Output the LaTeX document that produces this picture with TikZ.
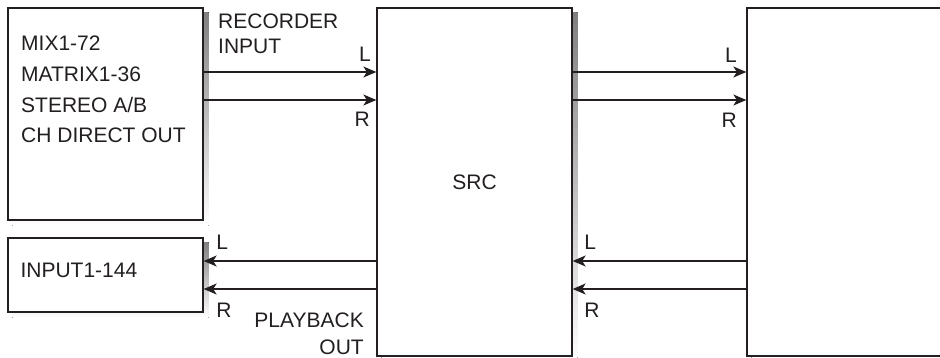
\documentclass[tikz,border=0pt]{standalone}
\usepackage{fontspec}
\setmainfont{Liberation Sans}
\usetikzlibrary{positioning, arrows.meta, backgrounds}
\definecolor{ink}{HTML}{231F20}
\definecolor{shade}{HTML}{BCBEC0}

\begin{document}
\begin{tikzpicture}[x=1pt,y=-1pt,node distance=10pt,
    every node/.style={font=\fontsize{21}{25}\selectfont, text=ink}]
  \tikzstyle{box}=[draw=ink, fill=white, line width=1.3pt, inner sep=0pt,
    minimum width=195pt]
  \tikzstyle{sig}=[-{Stealth[length=13pt,width=11pt,inset=3.5pt]}, color=ink,
    line width=1.3pt]
  \tikzstyle{lbl}=[inner sep=0pt]
  \useasboundingbox (0,0) rectangle (940,358);
  \clip (0,0) rectangle (940,358);
  % boxes
  \node[box, minimum height=212pt] (mix) at (105.5,114) {};
  \node[box, minimum height=74pt] (inp) at (105.5,275) {};
  \node[box, minimum height=348pt] (src) at (474.5,182) {SRC};
  \node[box, minimum width=230pt, minimum height=348pt] (rec) at (862,182) {};
  % shadows
  \begin{scope}[on background layer]
    \foreach \b in {mix, inp, src, rec}
      \fill[shade] ([shift={(5,5)}]\b.north west)
        rectangle ([shift={(5,5)}]\b.south east);
  \end{scope}
  % texts
  \node[lbl, anchor=north west, align=left, font=\fontsize{21}{30.6}\selectfont]
    (mixtxt) at (21,36) {MIX1-72\\MATRIX1-36\\STEREO A/B\\CH DIRECT OUT};
  \node[lbl, anchor=west] (inptxt) at ([xshift=13pt,yshift=5pt]inp.west) {INPUT1-144};
  \node[lbl, anchor=north west, align=left] (recin) at (218,14) {RECORDER\\INPUT};
  \node[lbl, anchor=north east, align=right, font=\fontsize{21}{27}\selectfont]
    (playout) at (364,313) {PLAYBACK\\OUT};
  % rows
  \coordinate (rowL) at (0,72);
  \coordinate (rowR) at (0,100);
  \coordinate (retL) at (0,261);
  \coordinate (retR) at (0,289);
  \path[sig]
    (mix.east |- rowL) edge node[lbl, pos=1, anchor=south east,
      xshift=-5pt, yshift=10pt]{L} (src.west |- rowL)
    (mix.east |- rowR) edge node[lbl, pos=1, anchor=north east,
      xshift=-6pt, yshift=-11pt]{R} (src.west |- rowR)
    (src.east |- rowL) edge node[lbl, pos=1, anchor=south east,
      xshift=-9pt, yshift=9pt]{L} (rec.west |- rowL)
    (src.east |- rowR) edge node[lbl, pos=1, anchor=north east,
      xshift=-9pt, yshift=-12pt]{R} (rec.west |- rowR)
    (src.west |- retL) edge node[lbl, pos=1, anchor=south west,
      xshift=12pt, yshift=11pt]{L} (inp.east |- retL)
    (src.west |- retR) edge node[lbl, pos=1, anchor=north west,
      xshift=12pt, yshift=-13pt]{R} (inp.east |- retR)
    (rec.west |- retL) edge node[lbl, pos=1, anchor=south west,
      xshift=11pt, yshift=11pt]{L} (src.east |- retL)
    (rec.west |- retR) edge node[lbl, pos=1, anchor=north west,
      xshift=11pt, yshift=-13pt]{R} (src.east |- retR)
    ;
\end{tikzpicture}
\end{document}
